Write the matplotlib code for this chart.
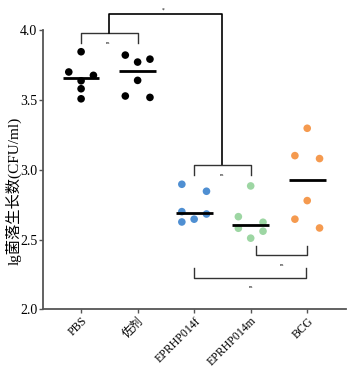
import numpy as np
import matplotlib.pyplot as plt

plt.rcParams['font.family'] = ['Liberation Serif', 'Noto Sans CJK SC']

groups = ['PBS', '佐剂', 'EPRHP014f', 'EPRHP014m', 'BCG']
pbs = [3.845, 3.700, 3.676, 3.637, 3.580, 3.508]
adjuvant = [3.821, 3.792, 3.771, 3.640, 3.528, 3.518]
epr_f = [2.896, 2.846, 2.700, 2.683, 2.646, 2.626]
epr_m = [2.884, 2.664, 2.624, 2.581, 2.560, 2.510]
bcg = [3.297, 3.101, 3.080, 2.779, 2.646, 2.583]
colors = ['black', 'black', '#4f8fd2', '#9dd6a3', '#f59a4f']

data = [pbs, adjuvant, epr_f, epr_m, bcg]


def spread(vals, w=0.065, t=0.052):
    # column-style scatter: points close in y share a row and get spread out
    vals = sorted(vals, reverse=True)
    bins, cur = [], []
    for v in vals:
        if cur and (cur[0] - v > w or len(cur) == 3):
            bins.append(cur)
            cur = []
        cur.append(v)
    bins.append(cur)
    placed = []
    for b in bins:
        order = [0, -1, 1] if len(b) == 1 else [-1, 1, 0]
        used = []
        for v in b:
            for s in order:
                if s in used:
                    continue
                if all(not (ps == s and abs(pv - v) < t) for pv, ps in placed):
                    placed.append((v, s))
                    used.append(s)
                    break
    return placed


fig, ax = plt.subplots(figsize=(3.52, 3.67), dpi=100)
fig.subplots_adjust(left=0.122, right=0.982, bottom=0.157, top=0.918)

step = 0.218
for i, vals in enumerate(data):
    pts = spread(vals)
    xs = [i + s * step for v, s in pts]
    ys = [v for v, s in pts]
    ax.scatter(xs, ys, s=30, color=colors[i], edgecolors='none', zorder=3)
    med = np.median(vals)
    ax.plot([i - 0.325, i + 0.325], [med, med], color='black', lw=2, zorder=4,
            solid_capstyle='butt')

ax.set_xlim(-0.675, 4.68)
ax.set_ylim(2.0, 4.0)
ax.set_yticks([2.0, 2.5, 3.0, 3.5, 4.0])
ax.set_xticks(range(len(groups)))
ax.set_xticklabels(groups, rotation=45, ha='right', rotation_mode='anchor', fontsize=8.5)
ax.tick_params(axis='y', labelsize=10, length=3, width=1, color='#555555', pad=1)
ax.tick_params(axis='x', length=3, width=1, color='#555555', pad=1)
for side in ['top', 'right']:
    ax.spines[side].set_visible(False)
for side in ['left', 'bottom']:
    ax.spines[side].set_color('#555555')
    ax.spines[side].set_linewidth(1.3)

ax.set_ylabel('lg菌落生长数(CFU/ml)', fontsize=11)
ax.yaxis.set_label_coords(-0.07, 0.424)

lc = '#333333'
kw = dict(color=lc, lw=1, clip_on=False)
# PBS vs adjuvant
ax.plot([0, 0, 1, 1], [3.909, 3.981, 3.981, 3.909], **kw)
ax.text(0.48, 3.905, 'ns', fontsize=3.5, ha='center', va='center')
# top bracket
ax.plot([0.5, 0.5, 2.5, 2.5], [3.981, 4.114, 4.114, 3.034], color='black', lw=1.2, clip_on=False)
ax.text(1.45, 4.14, '*', fontsize=4, ha='center', va='center')
# EPRHP014f vs EPRHP014m
ax.plot([2, 2, 3, 3], [2.962, 3.034, 3.034, 2.962], **kw)
ax.text(2.5, 2.96, 'ns', fontsize=3.5, ha='center', va='center')
# EPRHP014m vs BCG
ax.plot([3.1, 3.1, 4, 4], [2.454, 2.39, 2.39, 2.454], **kw)
ax.text(3.55, 2.318, 'ns', fontsize=3.5, ha='center', va='center')
# EPRHP014f vs BCG
ax.plot([2, 2, 3.98, 3.98], [2.297, 2.228, 2.228, 2.297], **kw)
ax.text(3.0, 2.16, 'ns', fontsize=3.5, ha='center', va='center')

plt.savefig('out.png', dpi=100)
